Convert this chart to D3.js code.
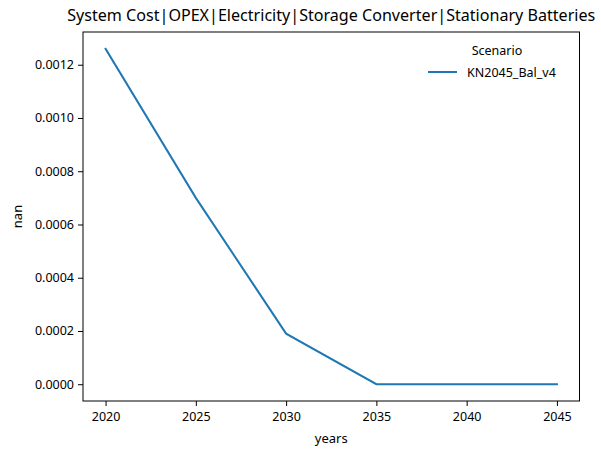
<!DOCTYPE html>
<html><head><meta charset="utf-8">
<script src="https://cdn.jsdelivr.net/npm/d3@7"></script>
<style>body{margin:0;background:#fff}svg{display:block}text{font-family:"Noto Sans",sans-serif;fill:#000}</style>
</head><body>
<svg id="c" width="601" height="456"></svg>
<script>
const years = [2020, 2025, 2030, 2035, 2040, 2045];
const values = [0.00126, 0.0007, 0.00019, 0, 0, 0];
const xTicks = [2020, 2025, 2030, 2035, 2040, 2045];
const yTicks = [0, 0.0002, 0.0004, 0.0006, 0.0008, 0.0010, 0.0012];
const seriesName = "KN2045_Bal_v4";
const titleText = "System Cost|OPEX|Electricity|Storage Converter|Stationary Batteries";

const L = 83, R = 579.5, T = 32, B = 401;
const svg = d3.select("#c");
const xMin = d3.min(years), xMax = d3.max(years), xPad = (xMax - xMin) * 0.05;
const yMin = d3.min(values), yMax = d3.max(values), yPad = (yMax - yMin) * 0.05;
const x = d3.scaleLinear().domain([xMin - xPad, xMax + xPad]).range([L, R]);
const y = d3.scaleLinear().domain([yMin - yPad, yMax + yPad]).range([B, T]);

const xa = svg.append("g").attr("transform", `translate(0,${B})`)
  .call(d3.axisBottom(x).tickValues(xTicks).tickFormat(d3.format("d")).tickSize(5).tickPadding(4));
const ya = svg.append("g").attr("transform", `translate(${L},0)`)
  .call(d3.axisLeft(y).tickValues(yTicks).tickFormat(d3.format(".4f")).tickSize(5).tickPadding(4));
[xa, ya].forEach(a => {
  a.select(".domain").remove();
  a.selectAll(".tick line").attr("stroke", "#000").attr("stroke-width", 1);
  a.selectAll(".tick text").attr("font-size", 12.5).attr("font-family", "Noto Sans").attr("fill", "#000");
});
xa.selectAll(".tick text").attr("dy", "0.9em");

svg.append("path").datum(years.map((d, i) => [d, values[i]]))
  .attr("fill", "none").attr("stroke", "#1f77b4").attr("stroke-width", 2)
  .attr("stroke-linecap", "square")
  .attr("d", d3.line().x(d => x(d[0])).y(d => y(d[1])));

svg.append("rect").attr("x", L).attr("y", T).attr("width", R - L).attr("height", B - T)
  .attr("fill", "none").attr("stroke", "#000").attr("stroke-width", 1);

svg.append("text").attr("x", (L + R) / 2).attr("y", 21).attr("text-anchor", "middle")
  .attr("font-size", 15.5).attr("textLength", 528).attr("lengthAdjust", "spacingAndGlyphs")
  .text(titleText);
svg.append("text").attr("x", (L + R) / 2).attr("y", 443).attr("text-anchor", "middle")
  .attr("font-size", 13).text("years");
svg.append("text").attr("transform", `translate(22,${(T + B) / 2}) rotate(-90)`)
  .attr("text-anchor", "middle").attr("font-size", 13).text("nan");

svg.append("text").attr("x", 497).attr("y", 55).attr("text-anchor", "middle")
  .attr("font-size", 12.5).text("Scenario");
svg.append("line").attr("x1", 428).attr("x2", 457).attr("y1", 72).attr("y2", 72)
  .attr("stroke", "#1f77b4").attr("stroke-width", 2);
svg.append("text").attr("x", 467).attr("y", 76.5).attr("font-size", 12.5).text(seriesName);
</script>
</body></html>
